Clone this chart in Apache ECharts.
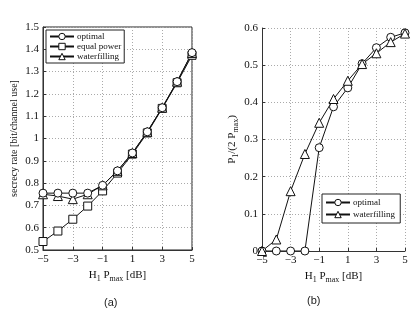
<!DOCTYPE html>
<html><head><meta charset="utf-8">
<script src="https://cdn.jsdelivr.net/npm/echarts@6/dist/echarts.min.js"></script>
<style>html,body{margin:0;padding:0;background:#fff}#c{width:415px;height:319px}</style>
</head><body><div id="c"></div>
<script>
const xVals = [-5,-4,-3,-2,-1,0,1,2,3,4,5];
const rateOptimal = [0.755,0.755,0.755,0.755,0.79,0.855,0.935,1.03,1.138,1.255,1.385];
const rateEqual = [0.538,0.585,0.638,0.697,0.765,0.845,0.93,1.025,1.135,1.25,1.373];
const rateWater = [0.75,0.742,0.728,0.75,0.79,0.855,0.935,1.03,1.138,1.255,1.383];
const pOptimal = [0,0,0,0,0.278,0.388,0.439,0.504,0.547,0.575,0.587];
const pWater = [0,0.031,0.161,0.261,0.345,0.409,0.458,0.503,0.532,0.562,0.585];

const pair = (ys) => xVals.map((x,i)=>[x,ys[i]]);
const serif = 'Liberation Serif';
const minus = v => String(v).replace('-', '\u2212');
const ax = {
  axisLabel:{fontFamily:serif,fontSize:11,color:'#111',formatter:minus,margin:4},
  splitLine:{show:true,lineStyle:{color:'#aaa',type:[1,2],width:1}},
  axisTick:{show:true,inside:true,length:3,lineStyle:{color:'#333'}},
  axisLine:{show:true,onZero:false,lineStyle:{color:'#333',width:1}}
};
const xName = {
  name:'{n|H}{s|1}{n| P}{s|max}{n| [dB]}',
  nameLocation:'middle', nameGap:17,
  nameTextStyle:{rich:{n:{fontFamily:serif,fontSize:11,color:'#111'},s:{fontFamily:serif,fontSize:8,color:'#111',padding:[8,0,0,0]}}}
};
const mk = (name,data,sym,xi,yi)=>({
  name, type:'line', xAxisIndex:xi, yAxisIndex:yi, data,
  symbol:sym, symbolSize: sym==='triangle'?9:8, showSymbol:true,
  lineStyle:{color:'#111',width:1}, itemStyle:{color:'#fff',borderColor:'#111',borderWidth:1},
  animation:false
});
const legItem = {color:'#fff',borderColor:'#111',borderWidth:1};
const chart = echarts.init(document.getElementById('c'));
chart.setOption({
  animation:false,
  grid:[
    {left:43,top:27,width:149,height:223,show:true,borderColor:'#222',borderWidth:1,backgroundColor:'transparent'},
    {left:262,top:28,width:143,height:223}
  ],
  xAxis:[
    Object.assign({type:'value',gridIndex:0,min:-5,max:5,interval:2},ax,xName),
    Object.assign({type:'value',gridIndex:1,min:-5,max:5,interval:2},ax,xName)
  ],
  yAxis:[
    Object.assign({type:'value',gridIndex:0,min:0.5,max:1.5,interval:0.1,
      name:'secrecy rate [bit/channel use]',nameLocation:'middle',nameGap:24,
      nameTextStyle:{fontFamily:serif,fontSize:10,color:'#111'}},ax),
    Object.assign({type:'value',gridIndex:1,min:0,max:0.6,interval:0.1,
      name:'{n|P}{s|1}{n|/(2 P}{s|max}{n|)}',nameLocation:'middle',nameGap:22,
      nameTextStyle:{rich:{n:{fontFamily:serif,fontSize:11,color:'#111'},s:{fontFamily:serif,fontSize:8,color:'#111',padding:[8,0,0,0]}}}},ax)
  ],
  legend:[
    {data:['optimal','equal power','waterfilling'],orient:'vertical',left:46,top:30,
     borderColor:'#222',borderWidth:1,padding:[2,3,2,3],itemGap:1,itemWidth:24,itemHeight:8,
     backgroundColor:'#fff',itemStyle:legItem,
     textStyle:{fontFamily:serif,fontSize:9,color:'#111',padding:[0,0,0,-2]}},
    {data:['optimal ','waterfilling '],orient:'vertical',left:322,top:194,
     borderColor:'#222',borderWidth:1,padding:[4,3,4,3],itemGap:3,itemWidth:24,itemHeight:8,
     backgroundColor:'#fff',itemStyle:legItem,
     textStyle:{fontFamily:serif,fontSize:9,color:'#111',padding:[0,0,0,-2]}}
  ],
  series:[
    mk('equal power',pair(rateEqual),'rect',0,0),
    mk('waterfilling',pair(rateWater),'triangle',0,0),
    mk('optimal',pair(rateOptimal),'circle',0,0),
    mk('optimal ',pair(pOptimal),'circle',1,1),
    mk('waterfilling ',pair(pWater),'triangle',1,1)
  ],
  graphic:[
    {type:'text',left:104,top:297,style:{text:'(a)',font:'11px "Liberation Sans"',fill:'#222'}},
    {type:'text',left:307,top:295,style:{text:'(b)',font:'11px "Liberation Sans"',fill:'#222'}}
  ]
});
</script></body></html>
